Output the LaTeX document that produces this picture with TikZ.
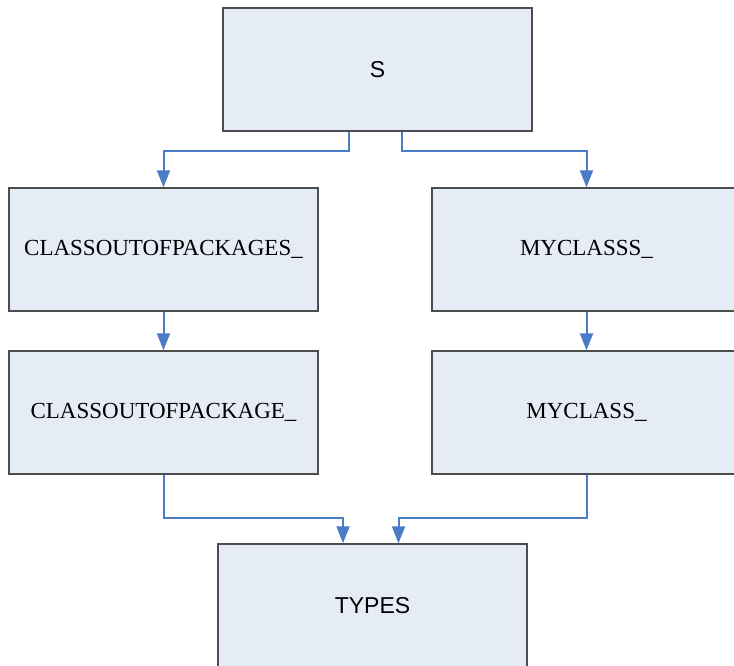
\documentclass[tikz,border=0pt]{standalone}
\usepackage{fontspec}
\setmainfont{Liberation Serif}
\setsansfont{Liberation Sans}
\usetikzlibrary{arrows.meta}

\definecolor{boxfill}{HTML}{E6ECF6}
\definecolor{boxedge}{HTML}{4D4D4D}
\definecolor{linkblue}{HTML}{4A7DC5}

\tikzset{
	classbox/.style = {draw = boxedge, fill = boxfill, line width = 1.4pt,
		minimum width = 309pt, minimum height = 123pt, inner sep = 0pt,
		font = \fontsize{23}{27}\selectfont},
	link/.style = {draw = linkblue, line width = 2pt,
		-{Triangle[width = 13pt, length = 17pt]}}
}

\begin{document}
\begin{tikzpicture}[x = 1pt, y = -1pt]
	\useasboundingbox (0,0) rectangle (734,666);

	\node[classbox, font = \sffamily\fontsize{23}{27}\selectfont] (s) at (377.5,69.5) {S};
	\node[classbox] (pkgs) at (163.5,249.5) {CLASSOUTOFPACKAGES\_};
	\node[classbox] (myclasss) at (586.5,249.5) {MYCLASSS\_};
	\node[classbox] (pkg) at (163.5,412.5) {CLASSOUTOFPACKAGE\_};
	\node[classbox] (myclass) at (586.5,412.5) {MYCLASS\_};
	\node[classbox, font = \sffamily\fontsize{23}{27}\selectfont] (types) at (372.5,605.5) {TYPES};

	\draw[link] ([xshift = -28.5pt]s.south) -- ++(0,19) -| (pkgs.north);
	\draw[link] ([xshift = 24.5pt]s.south) -- ++(0,19) -| (myclasss.north);
	\draw[link] (pkgs) -- (pkg);
	\draw[link] (myclasss) -- (myclass);
	\draw[link] (pkg.south) -- ++(0,43) -| ([xshift = -29.5pt]types.north);
	\draw[link] (myclass.south) -- ++(0,43) -| ([xshift = 26pt]types.north);
\end{tikzpicture}
\end{document}
